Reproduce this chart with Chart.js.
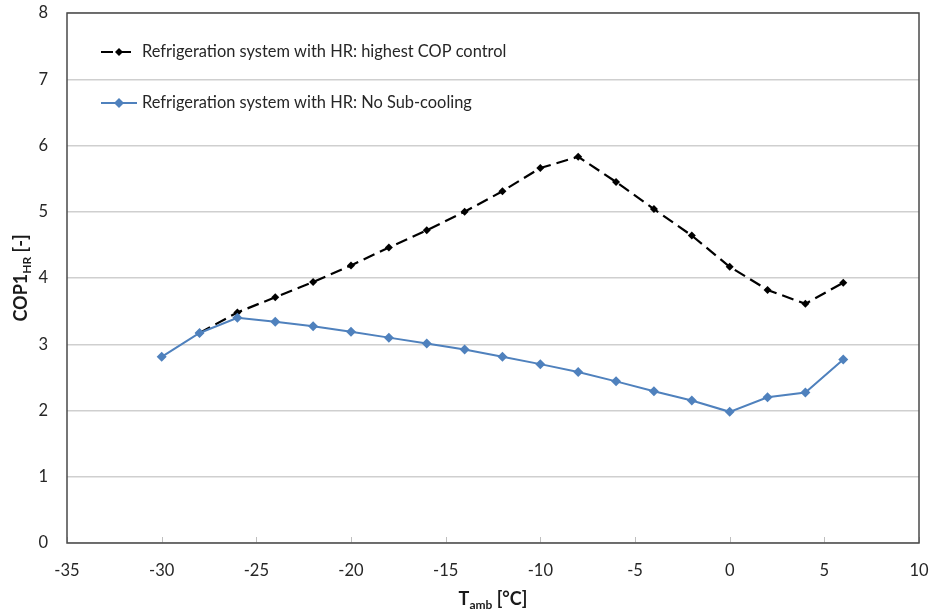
<!DOCTYPE html>
<html>
<head>
<meta charset="utf-8">
<script src="https://cdn.jsdelivr.net/npm/chart.js@4.4.1/dist/chart.umd.min.js"></script>
<style>
html,body{margin:0;padding:0;background:#fff;}
#wrap{width:933px;height:613px;position:relative;}
</style>
</head>
<body>
<div id="wrap"><canvas id="c" width="933" height="613"></canvas></div>
<script>
// ---- data ----
const tempHighestCOP = [-28, -26, -24, -22, -20, -18, -16, -14, -12, -10, -8, -6, -4, -2, 0, 2, 4, 6];
const copHighestCOP  = [3.17, 3.48, 3.71, 3.94, 4.19, 4.46, 4.72, 5.00, 5.31, 5.66, 5.83, 5.45, 5.04, 4.64, 4.17, 3.82, 3.61, 3.93];
const tempNoSub = [-30, -28, -26, -24, -22, -20, -18, -16, -14, -12, -10, -8, -6, -4, -2, 0, 2, 4, 6];
const copNoSub  = [2.81, 3.17, 3.40, 3.34, 3.27, 3.19, 3.10, 3.01, 2.92, 2.81, 2.70, 2.58, 2.44, 2.29, 2.15, 1.98, 2.20, 2.27, 2.77];
const seriesLabels = ['Refrigeration system with HR: highest COP control', 'Refrigeration system with HR: No Sub-cooling'];
const xTicks = [-35, -30, -25, -20, -15, -10, -5, 0, 5, 10];
const yTicks = [0, 1, 2, 3, 4, 5, 6, 7, 8];

const FONT = 'Lato, "Open Sans", sans-serif';
const toPts = (xs, ys) => xs.map((x, i) => ({x: x, y: ys[i]}));
const noPad = s => { s.paddingTop = 0; s.paddingBottom = 0; s.paddingLeft = 0; s.paddingRight = 0; };

const framePlugin = {
  id: 'frame',
  afterDatasetsDraw(chart) {
    const {ctx, chartArea: a, scales} = chart;
    ctx.save();
    ctx.strokeStyle = '#bfbfbf';
    ctx.lineWidth = 1;
    xTicks.forEach(v => {
      const px = Math.round(scales.x.getPixelForValue(v)) + 0.5;
      ctx.beginPath();
      ctx.moveTo(px, a.bottom);
      ctx.lineTo(px, a.bottom - 6);
      ctx.stroke();
    });
    ctx.strokeStyle = '#4a4a4a';
    ctx.lineWidth = 1.5;
    ctx.strokeRect(a.left, a.top, a.right - a.left, a.bottom - a.top);
    ctx.restore();
  },
  afterDraw(chart) {
    const {ctx, chartArea: a} = chart;
    ctx.save();
    const rows = [{y: 52}, {y: 103}];
    chart.data.datasets.forEach((ds, i) => {
      const y = rows[i].y;
      ctx.strokeStyle = ds.borderColor;
      ctx.lineWidth = 2;
      ctx.setLineDash(ds.borderDash || []);
      ctx.beginPath();
      ctx.moveTo(101, y);
      ctx.lineTo(137, y);
      ctx.stroke();
      ctx.setLineDash([]);
      ctx.fillStyle = ds.pointBackgroundColor;
      const r = ds.pointRadius;
      ctx.beginPath();
      ctx.moveTo(119, y - r); ctx.lineTo(119 + r, y); ctx.lineTo(119, y + r); ctx.lineTo(119 - r, y); ctx.closePath();
      ctx.fill();
      ctx.fillStyle = '#262626';
      ctx.font = '16.4px ' + FONT;
      ctx.textAlign = 'left';
      ctx.textBaseline = 'middle';
      ctx.fillText(ds.label, 142, y);
    });
    ctx.fillStyle = '#1a1a1a';
    ctx.textBaseline = 'alphabetic';
    const big = 'bold 18px ' + FONT, small = 'bold 12px ' + FONT;
    ctx.font = big; const wT = ctx.measureText('T').width;
    ctx.font = small; const wS = ctx.measureText('amb').width;
    ctx.font = big; const wR = ctx.measureText(' [°C]').width;
    let cx = (a.left + a.right) / 2 - (wT + wS + wR) / 2;
    const by = 605;
    ctx.font = big; ctx.fillText('T', cx, by); cx += wT;
    ctx.font = small; ctx.fillText('amb', cx, by + 4); cx += wS;
    ctx.font = big; ctx.fillText(' [°C]', cx, by);
    ctx.translate(27, (a.top + a.bottom) / 2);
    ctx.rotate(-Math.PI / 2);
    ctx.font = big; const w1 = ctx.measureText('COP1').width;
    ctx.font = small; const w2 = ctx.measureText('HR').width;
    ctx.font = big; const w3 = ctx.measureText(' [-]').width;
    let yx = -(w1 + w2 + w3) / 2;
    ctx.font = big; ctx.fillText('COP1', yx, 0); yx += w1;
    ctx.font = small; ctx.fillText('HR', yx, 4); yx += w2;
    ctx.font = big; ctx.fillText(' [-]', yx, 0);
    ctx.restore();
  }
};

new Chart(document.getElementById('c'), {
  type: 'line',
  data: {
    datasets: [
      {
        label: seriesLabels[0],
        data: toPts(tempHighestCOP, copHighestCOP),
        borderColor: '#000000',
        backgroundColor: '#000000',
        pointBackgroundColor: '#000000',
        pointBorderColor: '#000000',
        borderWidth: 2.2,
        borderDash: [12, 6],
        pointStyle: 'rectRot',
        pointRadius: 4,
        pointBorderWidth: 0,
        tension: 0,
        order: 2
      },
      {
        label: seriesLabels[1],
        data: toPts(tempNoSub, copNoSub),
        borderColor: '#4f81bd',
        backgroundColor: '#4f81bd',
        pointBackgroundColor: '#4f81bd',
        pointBorderColor: '#4f81bd',
        borderWidth: 2,
        pointStyle: 'rectRot',
        pointRadius: 5,
        pointBorderWidth: 0,
        tension: 0,
        order: 1
      }
    ]
  },
  options: {
    responsive: false,
    animation: false,
    layout: {padding: {top: 13, right: 14, left: 0, bottom: 0}},
    plugins: {legend: {display: false}, tooltip: {enabled: false}},
    scales: {
      x: {
        type: 'linear',
        min: -35, max: 10,
        afterBuildTicks: s => { s.ticks = xTicks.map(v => ({value: v})); },
        afterFit: s => { s.height = 70; noPad(s); },
        grid: {display: false, drawTicks: false},
        border: {display: false},
        ticks: {padding: 18, color: '#262626', font: {family: FONT, size: 16.5}, maxRotation: 0}
      },
      y: {
        min: 0, max: 8,
        afterBuildTicks: s => { s.ticks = yTicks.map(v => ({value: v})); },
        afterFit: s => { s.width = 67; noPad(s); },
        grid: {color: '#cfcfcf', lineWidth: 1.5, drawTicks: false},
        border: {display: false},
        ticks: {padding: 19, color: '#262626', font: {family: FONT, size: 16.5}}
      }
    }
  },
  plugins: [framePlugin]
});
</script>
</body>
</html>
